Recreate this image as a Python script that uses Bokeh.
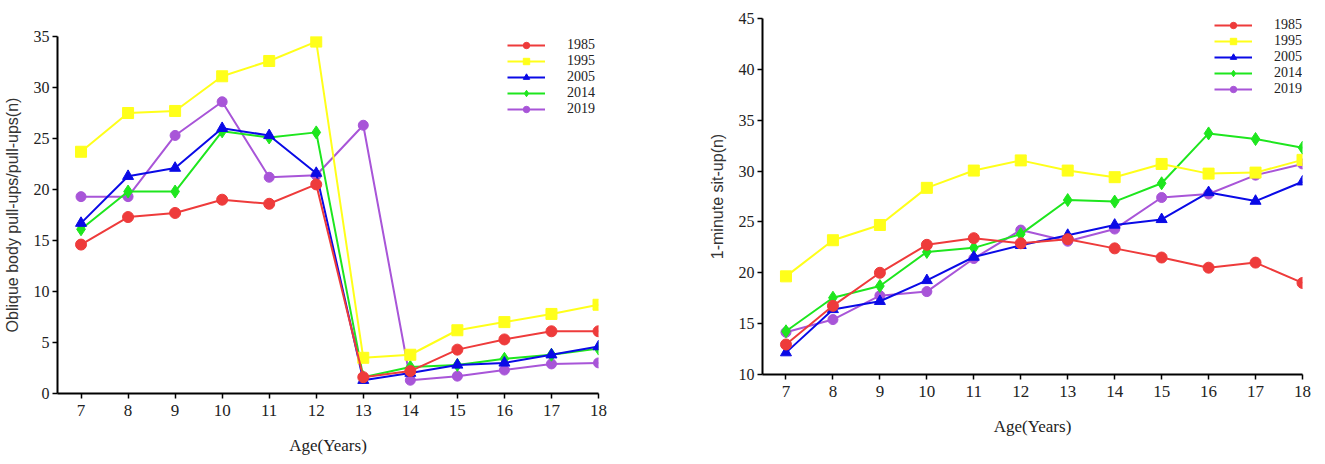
from bokeh.plotting import figure
from bokeh.models import Legend, LegendItem, Range1d, FixedTicker
from bokeh.layouts import row, column
from bokeh.embed import file_html
from bokeh.resources import INLINE

ages = [7, 8, 9, 10, 11, 12, 13, 14, 15, 16, 17, 18]
years = ["1985", "1995", "2005", "2014", "2019"]

# Left: oblique body pull-ups / pull-ups (n)
pull_1985 = [14.6, 17.3, 17.7, 19.0, 18.6, 20.5, 1.6, 2.2, 4.3, 5.3, 6.1, 6.1]
pull_1995 = [23.7, 27.5, 27.7, 31.1, 32.6, 34.5, 3.5, 3.8, 6.2, 7.0, 7.8, 8.7]
pull_2005 = [16.7, 21.3, 22.1, 26.0, 25.3, 21.6, 1.3, 2.0, 2.8, 3.0, 3.8, 4.6]
pull_2014 = [16.1, 19.8, 19.8, 25.7, 25.1, 25.6, 1.6, 2.6, 2.8, 3.4, 3.8, 4.4]
pull_2019 = [19.3, 19.3, 25.3, 28.6, 21.2, 21.4, 26.3, 1.3, 1.7, 2.3, 2.9, 3.0]

# Right: 1-minute sit-up (n)
sit_1985 = [12.95, 16.75, 20.0, 22.75, 23.4, 22.9, 23.3, 22.4, 21.5, 20.5, 21.0, 19.0]
sit_1995 = [19.65, 23.2, 24.7, 28.35, 30.05, 31.05, 30.05, 29.4, 30.7, 29.75, 29.85, 31.1]
sit_2005 = [12.15, 16.4, 17.2, 19.25, 21.55, 22.7, 23.7, 24.7, 25.25, 27.9, 27.05, 28.95]
sit_2014 = [14.25, 17.55, 18.7, 22.05, 22.45, 23.8, 27.15, 27.0, 28.8, 33.7, 33.15, 32.3]
sit_2019 = [14.15, 15.4, 17.75, 18.15, 21.4, 24.2, 23.1, 24.3, 27.4, 27.75, 29.6, 30.7]

colors = ["#ee3b3b", "#ffff1a", "#0a0ae6", "#1ee61e", "#a855d8"]
markers = ["circle", "square", "triangle", "diamond", "circle"]
msizes = [11, 11, 11, 13, 10]

SERIF = "Liberation Serif"
SANS = "Liberation Sans"


def make_fig(series, ylab, ymin, ymax, yticks, mb_left, mb_top, mb_right, mb_bottom,
             fw, fh, leg_x, leg_y):
    p = figure(frame_width=fw, frame_height=fh, output_backend="svg", toolbar_location=None,
               x_range=Range1d(6.5, 18), y_range=Range1d(ymin, ymax),
               min_border_left=mb_left, min_border_top=mb_top,
               min_border_right=mb_right, min_border_bottom=mb_bottom)
    p.outline_line_color = None
    p.grid.visible = False
    p.background_fill_color = "white"
    p.border_fill_color = "white"

    p.xaxis.ticker = FixedTicker(ticks=ages)
    p.yaxis.ticker = FixedTicker(ticks=yticks)
    for ax in (p.xaxis[0], p.yaxis[0]):
        ax.axis_line_color = "black"
        ax.axis_line_width = 2
        ax.major_tick_line_color = "black"
        ax.major_tick_line_width = 1.5
        ax.major_tick_out = 5
        ax.major_tick_in = 0
        ax.minor_tick_line_color = None
        ax.major_label_text_font = SERIF
        ax.major_label_text_color = "#222222"
    p.xaxis.major_label_text_font_size = "17px"
    p.yaxis.major_label_text_font_size = "16px"
    p.xaxis.major_label_standoff = 6
    p.yaxis.major_label_standoff = 3
    p.xaxis.axis_label = "Age(Years)"
    p.xaxis.axis_label_text_font = SERIF
    p.xaxis.axis_label_text_font_size = "17px"
    p.xaxis.axis_label_text_font_style = "normal"
    p.xaxis.axis_label_text_color = "#222222"
    p.xaxis.axis_label_standoff = 17
    p.yaxis.axis_label = ylab
    p.yaxis.axis_label_text_font = SANS
    p.yaxis.axis_label_text_font_size = "16px"
    p.yaxis.axis_label_text_font_style = "normal"
    p.yaxis.axis_label_text_color = "#333333"
    p.yaxis.axis_label_standoff = 10

    items = {}
    for i in reversed(range(len(years))):
        ys = series[i]
        ln = p.line(ages, ys, line_color=colors[i], line_width=2)
        sc = p.scatter(ages, ys, marker=markers[i], size=msizes[i],
                       fill_color=colors[i], line_color=colors[i])
        items[i] = LegendItem(label=years[i], renderers=[ln, sc])

    legend = Legend(items=[items[i] for i in range(len(years))],
                    location=(leg_x, leg_y), glyph_width=38, glyph_height=16,
                    label_height=16, label_standoff=22, spacing=0, padding=0, margin=0,
                    border_line_color=None, background_fill_alpha=0,
                    label_text_font=SERIF, label_text_font_size="14px",
                    label_text_color="#222222")
    p.add_layout(legend)
    return p


p1 = make_fig([pull_1985, pull_1995, pull_2005, pull_2014, pull_2019],
              "Oblique body pull-ups/pull-ups(n)", 0, 35, [0, 5, 10, 15, 20, 25, 30, 35],
              50, 36, 60, 55, 541, 357, 450, 276)
p2 = make_fig([sit_1985, sit_1995, sit_2005, sit_2014, sit_2019],
              "1-minute sit-up(n)", 10, 45, [10, 15, 20, 25, 30, 35, 40, 45],
              104, 18, 10, 70, 540, 356, 452, 277)

layout = row(column(p1), column(p2), spacing=0)
open("out.html", "w").write(file_html(layout, INLINE))
